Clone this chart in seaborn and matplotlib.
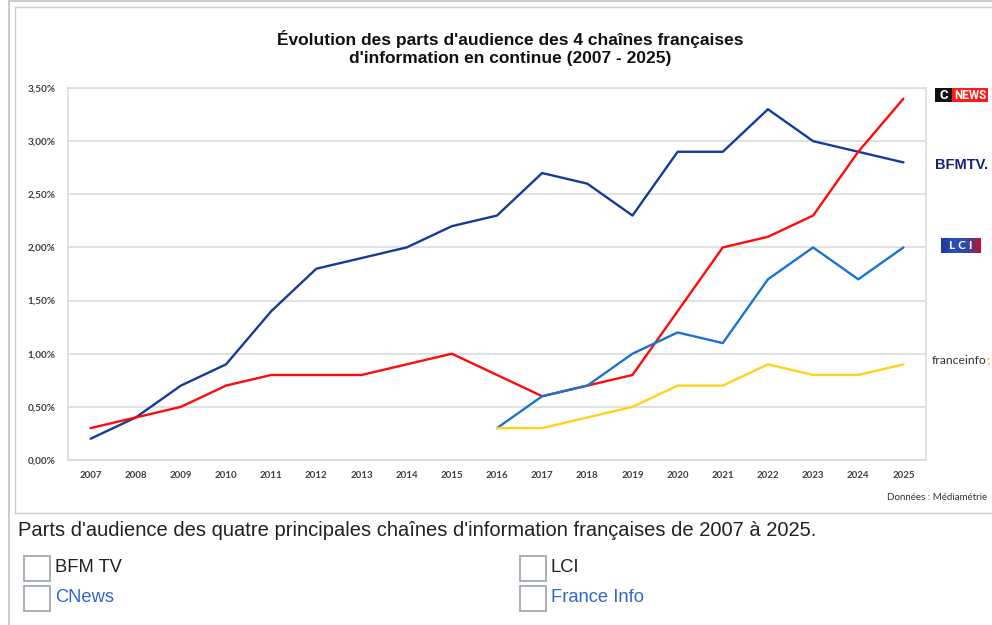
import numpy as np
import pandas as pd
import matplotlib.pyplot as plt
import seaborn as sns
from matplotlib.patches import Rectangle
from matplotlib.lines import Line2D
from matplotlib.colors import LinearSegmentedColormap

# Data (share of audience, %)
years = list(range(2007, 2026))
bfm = [0.2, 0.4, 0.7, 0.9, 1.4, 1.8, 1.9, 2.0, 2.2, 2.3, 2.7, 2.6, 2.3, 2.9, 2.9, 3.3, 3.0, 2.9, 2.8]
cnews = [0.3, 0.4, 0.5, 0.7, 0.8, 0.8, 0.8, 0.9, 1.0, 0.8, 0.6, 0.7, 0.8, 1.4, 2.0, 2.1, 2.3, 2.9, 3.4]
lci = [np.nan] * 9 + [0.3, 0.6, 0.7, 1.0, 1.2, 1.1, 1.7, 2.0, 1.7, 2.0]
franceinfo = [np.nan] * 9 + [0.3, 0.3, 0.4, 0.5, 0.7, 0.7, 0.9, 0.8, 0.8, 0.9]
y_ticks = [0.0, 0.5, 1.0, 1.5, 2.0, 2.5, 3.0, 3.5]
y_labels = ["0,00%", "0,50%", "1,00%", "1,50%", "2,00%", "2,50%", "3,00%", "3,50%"]

colors = {"BFM TV": "#123c9c", "CNews": "#ff0a0a", "LCI": "#1a73d0", "France Info": "#ffd21c"}

df = pd.DataFrame({"year": years, "BFM TV": bfm, "CNews": cnews, "LCI": lci, "France Info": franceinfo})
df = df.melt(id_vars="year", var_name="chaine", value_name="part")

sns.set_style("white")
plt.rcParams['font.family'] = ['Lato', 'DejaVu Sans']

W, H = 992, 625
fig = plt.figure(figsize=(W / 100, H / 100), dpi=100)


def fx(x):
    return x / W


def fy(y):
    return 1 - y / H


def rect(x0, y0, x1, y1, **kw):
    fig.patches.append(Rectangle((fx(x0), fy(y1)), fx(x1) - fx(x0), fy(y0) - fy(y1),
                                 transform=fig.transFigure, **kw))


def line(xs, ys, **kw):
    fig.lines.append(Line2D([fx(x) for x in xs], [fy(y) for y in ys], transform=fig.transFigure, **kw))


# page frame (no right edge in the screenshot)
rect(8, 0, 992, 2, facecolor="#c8ccd1", edgecolor="none")
rect(8, 0, 10, 625, facecolor="#c8ccd1", edgecolor="none")
line([992, 14.5, 14.5, 992], [6.5, 6.5, 513, 513], color="#c8ccd1", lw=1)

ax = fig.add_axes([fx(68), fy(460), fx(926) - fx(68), fy(88) - fy(460)])
sns.lineplot(data=df, x="year", y="part", hue="chaine", palette=colors,
             linewidth=1.7, legend=False, ax=ax)

ax.set_xlim(2006.5, 2025.5)
ax.set_ylim(0, 3.5)
ax.set_xlabel("")
ax.set_ylabel("")
ax.set_xticks(years)
ax.set_xticklabels([str(y) for y in years], fontsize=7, fontweight="bold", color="#404040")
ax.set_xticks([y + 0.5 for y in years[:-1]], minor=True)
ax.tick_params(axis="x", which="major", length=0, pad=8)
ax.tick_params(axis="x", which="minor", direction="in", length=4, color="#d9d9d9", width=1)
ax.set_yticks(y_ticks)
ax.set_yticklabels(y_labels, fontsize=7.2, fontweight="bold", color="#404040")
ax.tick_params(axis="y", length=0, pad=9)
ax.grid(axis="y", color="#d9d9d9", linewidth=1.1)
ax.set_axisbelow(True)
for s in ax.spines.values():
    s.set_color("#d9d9d9")
    s.set_linewidth(1.1)

# title
fig.text(fx(510), fy(48), "Évolution des parts d'audience des 4 chaînes françaises\nd'information en continue (2007 - 2025)",
         ha="center", va="center", fontsize=12.5, fontweight="bold", linespacing=1.25,
         family=["Liberation Sans Narrow", "Liberation Sans"], color="#111111")

fig.text(fx(987), fy(497), "Données : Médiamétrie", ha="right", va="center",
         fontsize=7, color="#333333")

# channel logos
rect(935, 88.5, 952, 102, facecolor="#111111", edgecolor="none")
rect(952, 88.5, 988, 102, facecolor="#ff1a1a", edgecolor="none")
fig.text(fx(943.5), fy(95.5), "C", ha="center", va="center", color="white", fontsize=9.5,
         fontweight="bold", family=["Roboto", "DejaVu Sans"])
fig.text(fx(970), fy(95.5), "NEWS", ha="center", va="center", color="white", fontsize=8.5,
         fontweight="bold", family=["Roboto", "DejaVu Sans"])

fig.text(fx(961.5), fy(165), "BFMTV.", ha="center", va="center", color="#16217a",
         fontsize=10.5, fontweight="heavy", family=["Liberation Sans Narrow", "Liberation Sans"])

lax = fig.add_axes([fx(941), fy(253), fx(981) - fx(941), fy(238) - fy(253)])
cmap = LinearSegmentedColormap.from_list("lci", ["#1a3a9e", "#2a50b8", "#3048a8", "#c4102c"])
lax.imshow(np.linspace(0, 1, 100)[None, :], cmap=cmap, aspect="auto")
lax.axis("off")
fig.text(fx(961), fy(245.5), "L C I", ha="center", va="center", color="white", fontsize=8.5, fontweight="bold")

fig.text(fx(932), fy(361), "franceinfo", ha="left", va="center", color="#333333", fontsize=8.8)
fig.text(fx(986.5), fy(361), ":", ha="left", va="center", color="#ffc800", fontsize=9, fontweight="bold")

# caption and checkbox list below the image
cap_font = ["Liberation Sans", "DejaVu Sans"]
fig.text(fx(18), fy(530), "Parts d'audience des quatre principales chaînes d'information françaises de 2007 à 2025.",
         ha="left", va="center", fontsize=14.5, family=cap_font, color="#202122")

items = [(24, 568, "BFM TV", "#202122"), (24, 598, "CNews", "#3366cc"),
         (520, 568, "LCI", "#202122"), (520, 598, "France Info", "#3366cc")]
for x, y, label, c in items:
    rect(x, y - 12.5, x + 26, y + 12.5, facecolor="white", edgecolor="#a2a9b1", lw=1.3)
    fig.text(fx(x + 31), fy(y), label, ha="left", va="center", fontsize=13.2, family=cap_font, color=c)

fig.savefig("out.png", dpi=100)
